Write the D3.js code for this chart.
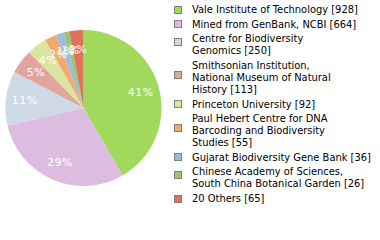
<!DOCTYPE html>
<html>
<head>
<meta charset="utf-8">
<script src="https://cdn.jsdelivr.net/npm/d3@7"></script>
<style>
  body { margin: 0; background: #fff; }
  svg { display: block; }
</style>
</head>
<body>
<div id="chart"></div>
<script>
var names = [
  ["Vale Institute of Technology [928]"],
  ["Mined from GenBank, NCBI [664]"],
  ["Centre for Biodiversity", "Genomics [250]"],
  ["Smithsonian Institution,", "National Museum of Natural", "History [113]"],
  ["Princeton University [92]"],
  ["Paul Hebert Centre for DNA", "Barcoding and Biodiversity", "Studies [55]"],
  ["Gujarat Biodiversity Gene Bank [36]"],
  ["Chinese Academy of Sciences,", "South China Botanical Garden [26]"],
  ["20 Others [65]"]
];
var counts = [928, 664, 250, 113, 92, 55, 36, 26, 65];
var colors = ["#a0d95c", "#dcbde0", "#cdd9e5", "#e0a59f", "#dde3a0",
              "#f0aa6f", "#9dbadf", "#9bc475", "#dc735a"];

var width = 380, height = 240,
    cx = 83.5, cy = 108, radius = 78;

var svg = d3.select("#chart")
  .append("svg")
  .attr("width", width)
  .attr("height", height);

var total = d3.sum(counts);
var data = counts.map(function (c, i) {
  return {name: names[i], count: c, color: colors[i]};
});

// Pie starts at 12 o'clock and runs clockwise, in given order.
var pie = d3.pie().sort(null).value(d => d.count);
var arc = d3.arc().innerRadius(0).outerRadius(radius);
var labelArc = d3.arc().innerRadius(radius * 0.76).outerRadius(radius * 0.76);

var g = svg.append("g")
  .attr("transform", `translate(${cx},${cy})`);

var arcs = pie(data);

g.selectAll("path")
  .data(arcs)
  .join("path")
    .attr("d", arc)
    .attr("fill", d => d.data.color);

g.selectAll("text")
  .data(arcs)
  .join("text")
    .attr("transform", d => `translate(${labelArc.centroid(d)})`)
    .attr("text-anchor", "middle")
    .attr("dy", "0.35em")
    .style("font-family", "DejaVu Sans")
    .style("font-size", "11px")
    .style("letter-spacing", "0.5px")
    .attr("fill", "#fff")
    .text(d => Math.floor(d.data.count / total * 100) + "%");

// Legend: wrapped names, square sits a little above the block middle.
var lineH = 12, gap = 2.6, y = 9.3;
var legend = svg.append("g");
data.forEach(function (d) {
  var n = d.name.length;
  var item = legend.append("g");
  var mid = y + (n - 1) * lineH / 2 - (n > 1 ? 2.5 : -0.5);
  item.append("rect")
    .attr("x", 174.5)
    .attr("y", Math.round(mid) - 3.5)
    .attr("width", 7)
    .attr("height", 7)
    .attr("fill", d.color)
    .attr("stroke", "#808080")
    .attr("stroke-width", 1);
  d.name.forEach(function (line, j) {
    item.append("text")
      .attr("x", 192)
      .attr("y", y + j * lineH)
      .attr("dy", "0.35em")
      .style("font-family", "DejaVu Sans Condensed, DejaVu Sans")
      .style("font-size", "11px")
      .attr("fill", "#000")
      .text(line);
  });
  y += n * lineH + gap;
});
</script>
</body>
</html>
